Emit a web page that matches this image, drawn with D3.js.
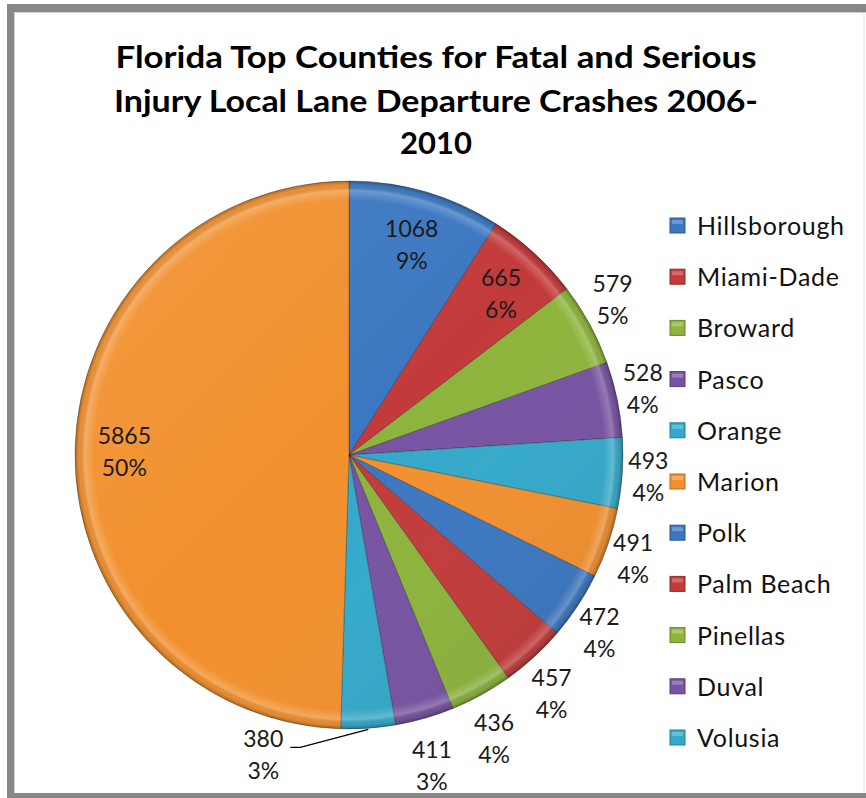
<!DOCTYPE html>
<html><head><meta charset="utf-8">
<script src="https://cdn.jsdelivr.net/npm/d3@7"></script>
<style>body{margin:0;background:#fff}svg{display:block}</style>
</head><body>
<script>
// ---- data ----
const categories = ["Hillsborough","Miami-Dade","Broward","Pasco","Orange","Marion","Polk","Palm Beach","Pinellas","Duval","Volusia","Other"];
const values = [1068,665,579,528,493,491,472,457,436,411,380,5865];
const legendCategories = categories.slice(0, 11);
const titleLines = ["Florida Top Counties for Fatal and Serious","Injury Local Lane Departure Crashes 2006-","2010"];
const palette = ["#3B77C1","#C23B3A","#8DB43C","#7753A2","#34A9CA","#F2902E"];
const leaderLabels = ["Volusia"];

// ---- layout ----
const W = 866, H = 798;
const cx = 349, cy = 455, R = 274;
const font = "Lato, 'Open Sans', sans-serif";

const svg = d3.select("body").append("svg").attr("width", W).attr("height", H);
svg.append("rect").attr("width", W).attr("height", H).attr("fill", "#fff");

// frame
const frame = svg.append("g").attr("fill", "#878787");
frame.append("rect").attr("x", 7).attr("y", 4).attr("width", 7).attr("height", H - 4);
frame.append("rect").attr("x", 7).attr("y", 4).attr("width", W - 7).attr("height", 8);
frame.append("rect").attr("x", 7).attr("y", 793).attr("width", W - 7).attr("height", 5);
svg.append("line").attr("x1", 864).attr("x2", 864).attr("y1", 12).attr("y2", 793)
  .attr("stroke", "#e4e4e4").attr("stroke-width", 1);
svg.append("path").attr("d", `M14.5,793 V12.5 H866`).attr("fill", "none")
  .attr("stroke", "#cfcfcf").attr("stroke-width", 1);

// title
const title = svg.append("g").attr("font-family", font).attr("font-weight", 700)
  .attr("font-size", 31).attr("fill", "#000").attr("text-anchor", "middle");
const titleY = [68, 112, 154];
const titleWidths = [641, 644, null];
titleLines.forEach((t, i) => {
  const tx = title.append("text").attr("x", 436).attr("y", titleY[i]).text(t);
  if (titleWidths[i]) tx.attr("textLength", titleWidths[i]).attr("lengthAdjust", "spacingAndGlyphs");
});

// defs
const defs = svg.append("defs");
const rim = defs.append("radialGradient").attr("id", "rim")
  .attr("gradientUnits", "userSpaceOnUse").attr("cx", cx).attr("cy", cy).attr("r", R);
[[0, "#fff", 0], [0.93, "#fff", 0], [0.965, "#fff", 0.22], [0.985, "#000", 0.04], [1, "#000", 0.3]]
  .forEach(([o, c, a]) => rim.append("stop").attr("offset", o).attr("stop-color", c).attr("stop-opacity", a));
const light = defs.append("linearGradient").attr("id", "light")
  .attr("x1", 0).attr("y1", 0).attr("x2", 1).attr("y2", 1);
[[0, "#fff", 0.10], [0.5, "#fff", 0], [1, "#000", 0.10]]
  .forEach(([o, c, a]) => light.append("stop").attr("offset", o).attr("stop-color", c).attr("stop-opacity", a));

// pie
const data = categories.map((c, i) => ({ name: c, value: values[i], idx: i }));
const total = d3.sum(values);
const pie = d3.pie().sort(null).value(d => d.value);
const arcs = pie(data);
const arc = d3.arc().innerRadius(0).outerRadius(R);
const color = i => palette[i % palette.length];

const g = svg.append("g").attr("transform", `translate(${cx},${cy})`);
g.selectAll("path.slice").data(arcs).join("path").attr("class", "slice")
  .attr("d", arc).attr("fill", d => color(d.data.idx))
  .attr("stroke", "rgba(0,0,0,0.35)").attr("stroke-width", 0.8);
svg.append("circle").attr("cx", cx).attr("cy", cy).attr("r", R).attr("fill", "url(#light)");
svg.append("circle").attr("cx", cx).attr("cy", cy).attr("r", R).attr("fill", "url(#rim)");

// labels
const pct = d3.format(".0%");
const lg = svg.append("g").attr("font-family", font).attr("font-size", 23).attr("fill", "#1a1a1a")
  .attr("text-anchor", "middle");
const padX = 26, padY = 50;
arcs.forEach(a => {
  const frac = a.value / total;
  const mid = (a.startAngle + a.endAngle) / 2;
  const s = Math.sin(mid), c = -Math.cos(mid);
  let x, y;
  if (frac >= 0.05) {
    x = cx + s * R * 0.82; y = cy + c * R * 0.8;
  } else if (leaderLabels.includes(a.data.name)) {
    const px = cx + s * (R + 1), py = cy + c * (R + 1);
    const ex = px - 68, ey = py + 18;
    svg.append("path").attr("d", `M${px},${py} L${ex},${ey} H${ex - 10}`)
      .attr("fill", "none").attr("stroke", "#000").attr("stroke-width", 1.3);
    x = ex - 37; y = ey + 8;
  } else {
    x = cx + s * (R + padX); y = cy + c * (R + padY);
  }
  const txt = lg.append("text").attr("x", x);
  txt.append("tspan").attr("x", x).attr("y", y - 8).text(a.value);
  txt.append("tspan").attr("x", x).attr("y", y + 24).text(pct(frac));
});

// legend
const leg = svg.append("g").attr("font-family", font).attr("font-size", 25)
  .attr("letter-spacing", 0.7).attr("fill", "#111");
legendCategories.forEach((name, i) => {
  const by = 235 + i * 51.2;
  leg.append("rect").attr("x", 670).attr("y", by - 17).attr("width", 15).attr("height", 15)
    .attr("fill", color(i)).attr("stroke", d3.color(color(i)).darker(0.8)).attr("stroke-width", 1);
  leg.append("rect").attr("x", 672).attr("y", by - 15).attr("width", 11).attr("height", 4)
    .attr("fill", "#fff").attr("opacity", 0.25);
  leg.append("text").attr("x", 697).attr("y", by).text(name);
});
</script>
</body></html>
